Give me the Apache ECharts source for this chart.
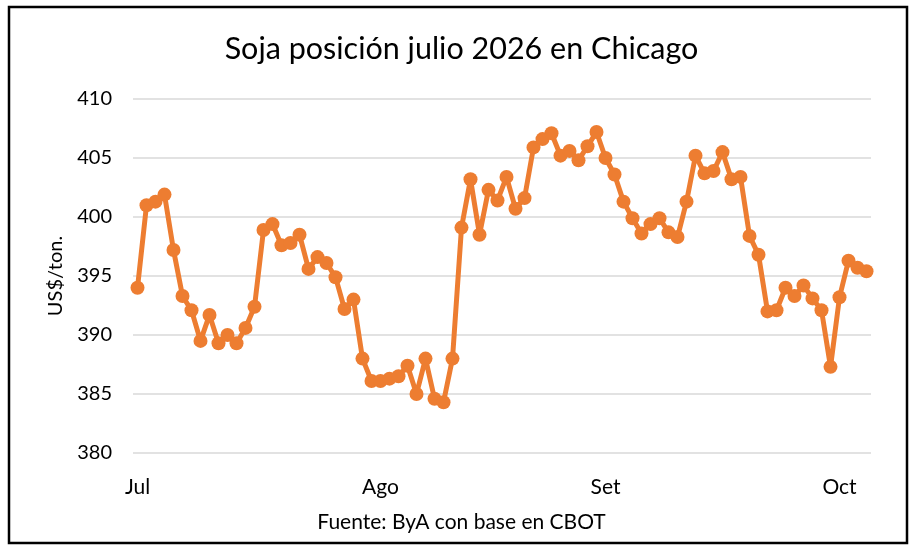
<!DOCTYPE html>
<html>
<head>
<meta charset="utf-8">
<script src="https://cdn.jsdelivr.net/npm/echarts@6/dist/echarts.min.js"></script>
<style>
html,body{margin:0;padding:0;background:#fff;}
#chart{width:923px;height:553px;}
</style>
</head>
<body>
<div id="chart"></div>
<script>
// Daily quotes (index = trading session)
const prices = [
  394.0, 401.0, 401.3, 401.9, 397.2, 393.3, 392.1, 389.5, 391.7, 389.3,
  390.0, 389.3, 390.6, 392.4, 398.9, 399.4, 397.6, 397.8, 398.5, 395.6,
  396.6, 396.1, 394.9, 392.2, 393.0, 388.0, 386.1, 386.1, 386.3, 386.5,
  387.4, 385.0, 388.0, 384.6, 384.3, 388.0, 399.1, 403.2, 398.5, 402.3,
  401.4, 403.4, 400.7, 401.6, 405.9, 406.6, 407.1, 405.2, 405.6, 404.8,
  406.0, 407.2, 405.0, 403.6, 401.3, 399.9, 398.6, 399.4, 399.9, 398.7,
  398.3, 401.3, 405.2, 403.7, 403.9, 405.5, 403.2, 403.4, 398.4, 396.8,
  392.0, 392.1, 394.0, 393.3, 394.2, 393.1, 392.1, 387.3, 393.2, 396.3,
  395.7, 395.4
];
const sessions = prices.map((_, i) => String(i + 1));
const monthTickIndex = [0, 27, 52, 78];
const monthTickLabels = ['Jul', 'Ago', 'Set', 'Oct'];
const yTicks = [380, 385, 390, 395, 400, 405, 410];

const FONT = 'Lato, "Open Sans", sans-serif';
const chart = echarts.init(document.getElementById('chart'));
chart.setOption({
  animation: false,
  backgroundColor: '#ffffff',
  title: [
    {
      text: 'Soja posición julio 2026 en Chicago',
      left: 'center', top: 29,
      textStyle: { fontFamily: FONT, fontSize: 30.5, fontWeight: 'normal', color: '#000' }
    },
    {
      text: 'Fuente: ByA con base en CBOT',
      left: 'center', top: 507,
      textStyle: { fontFamily: FONT, fontSize: 21, fontWeight: 'normal', color: '#000' }
    }
  ],
  graphic: [{
    type: 'rect',
    shape: { x: 9, y: 7, width: 898, height: 536 },
    style: { fill: 'none', stroke: '#000', lineWidth: 2.5 },
    silent: true
  }],
  grid: { left: 133, right: 52, top: 99, bottom: 100 },
  xAxis: {
    type: 'category',
    data: sessions,
    boundaryGap: true,
    axisLine: { show: false },
    axisTick: { show: false },
    axisLabel: {
      interval: (idx) => monthTickIndex.includes(idx),
      formatter: (v, idx) => {
        const k = monthTickIndex.indexOf(idx);
        return k >= 0 ? monthTickLabels[k] : '';
      },
      margin: 24,
      fontFamily: FONT, fontSize: 21, color: '#000'
    },
    splitLine: { show: false }
  },
  yAxis: {
    type: 'value',
    min: yTicks[0], max: yTicks[yTicks.length - 1], interval: 5,
    name: 'US$/ton.',
    nameLocation: 'middle',
    nameGap: 67,
    nameRotate: 90,
    nameTextStyle: { fontFamily: FONT, fontSize: 20, color: '#000' },
    axisLine: { show: false },
    axisTick: { show: false },
    axisLabel: { margin: 21, fontFamily: FONT, fontSize: 20, color: '#000' },
    splitLine: { lineStyle: { color: '#d9d9d9', width: 1.5 } }
  },
  series: [{
    type: 'line',
    data: prices,
    symbol: 'circle',
    symbolSize: 14,
    showAllSymbol: true,
    lineStyle: { color: '#ED7D31', width: 5 },
    itemStyle: { color: '#ED7D31' },
    z: 3
  }]
});
</script>
</body>
</html>
